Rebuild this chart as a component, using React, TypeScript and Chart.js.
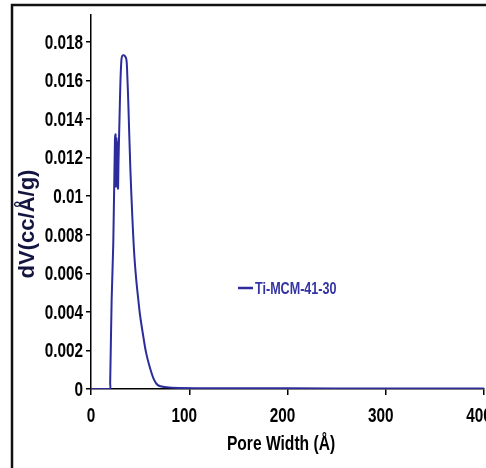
import React, { useEffect, useRef } from "react";
import { Chart, registerables } from "chart.js";

Chart.register(...registerables);

const poreWidth = [0, 19, 19.5, 21, 22.7, 24.4, 25, 25.5, 26, 26.5, 27, 27.5, 28, 29, 30, 31, 32, 34, 36, 37, 38, 40, 42, 44, 46, 48, 50, 53, 56, 60, 64, 68, 75, 90, 150, 250, 400];
const dV = [0, 0, 0.0003, 0.0046, 0.0076, 0.013, 0.0132, 0.0105, 0.013, 0.0106, 0.0128, 0.0104, 0.0118, 0.014, 0.016, 0.0171, 0.0173, 0.0173, 0.0171, 0.0162, 0.0148, 0.0115, 0.009, 0.007, 0.0057, 0.0047, 0.0038, 0.0028, 0.0019, 0.0011, 0.0005, 0.0002, 0.0001, 0.00005, 0.00004, 0.00003, 0.00002];
const seriesName = "Ti-MCM-41-30";
const xTitle = "Pore Width (Å)";
const yTitle = "dV(cc/Å/g)";
const xTicks = [0, 100, 200, 300, 400];
const yTicks = [0, 0.002, 0.004, 0.006, 0.008, 0.01, 0.012, 0.014, 0.016, 0.018];

const FONT = '"Liberation Sans", Arial, sans-serif';
const LINE = "#2c2c9c";

function squishText(ctx: CanvasRenderingContext2D, text: string, x: number, y: number, sx: number, align: CanvasTextAlign) {
  ctx.save();
  ctx.translate(x, y);
  ctx.scale(sx, 1);
  ctx.textAlign = align;
  ctx.fillText(text, 0, 0);
  ctx.restore();
}

const fmt = (v: number) => String(Number(v.toFixed(3)));

export default function App() {
  const ref = useRef<HTMLCanvasElement>(null);
  useEffect(() => {
    const canvas = ref.current!;
    const decor = {
      id: "decor",
      afterDraw(chart: any) {
        const ctx = chart.ctx as CanvasRenderingContext2D;
        const xs = chart.scales.x;
        const ys = chart.scales.y;
        ctx.save();
        // frame
        ctx.strokeStyle = "#111";
        ctx.lineWidth = 2.5;
        ctx.beginPath();
        ctx.moveTo(12, 468);
        ctx.lineTo(12, 5);
        ctx.lineTo(486, 5);
        ctx.stroke();
        ctx.textBaseline = "middle";
        // tick labels
        ctx.fillStyle = "#000";
        ctx.font = `bold 21px ${FONT}`;
        for (const v of yTicks) squishText(ctx, fmt(v), 83, ys.getPixelForValue(v) + 1, 0.73, "right");
        for (const v of xTicks) squishText(ctx, String(v), xs.getPixelForValue(v) - (v > 0 ? 5 : 0), 416, 0.73, "center");
        // y title
        ctx.fillStyle = "#141440";
        ctx.font = `bold 22px ${FONT}`;
        ctx.save();
        ctx.translate(28, 224);
        ctx.rotate(-Math.PI / 2);
        ctx.textAlign = "center";
        ctx.fillText(yTitle, 0, 0);
        ctx.restore();
        // x title
        ctx.fillStyle = "#000";
        ctx.font = `bold 20px ${FONT}`;
        squishText(ctx, xTitle, 281, 444, 0.78, "center");
        // legend
        ctx.strokeStyle = LINE;
        ctx.lineWidth = 2.5;
        ctx.beginPath();
        ctx.moveTo(238, 288);
        ctx.lineTo(253, 288);
        ctx.stroke();
        ctx.fillStyle = "#3434a4";
        ctx.font = `bold 17px ${FONT}`;
        squishText(ctx, seriesName, 255, 289, 0.74, "left");
        ctx.restore();
      },
    };
    const chart = new Chart(canvas, {
      type: "line",
      data: {
        datasets: [
          {
            label: seriesName,
            data: poreWidth.map((x, i) => ({ x, y: dV[i] })),
            borderColor: LINE,
            borderWidth: 2,
            pointRadius: 0,
            tension: 0.3,
            fill: false,
          },
        ],
      },
      options: {
        animation: false,
        responsive: false,
        layout: { padding: { top: 15, right: 2, left: 0, bottom: 0 } },
        plugins: { legend: { display: false }, tooltip: { enabled: false } },
        scales: {
          x: {
            type: "linear",
            min: 0,
            max: 400,
            afterBuildTicks: (s: any) => {
              s.ticks = xTicks.map((v) => ({ value: v }));
            },
            afterFit: (s: any) => {
              s.height = 79;
              s.paddingLeft = 0;
              s.paddingRight = 0;
            },
            ticks: { display: false },
            grid: { drawOnChartArea: false, drawTicks: true, tickLength: 6, color: "#000", lineWidth: 1.5 },
            border: { color: "#000", width: 1.5 },
          },
          y: {
            min: 0,
            max: 0.0194,
            afterBuildTicks: (s: any) => {
              s.ticks = yTicks.map((v) => ({ value: v }));
            },
            afterFit: (s: any) => {
              s.width = 91;
              s.paddingTop = 0;
              s.paddingBottom = 0;
            },
            ticks: { display: false },
            grid: { drawOnChartArea: false, drawTicks: true, tickLength: 5, color: "#000", lineWidth: 1.5 },
            border: { color: "#000", width: 1.5 },
          },
        },
      },
      plugins: [decor],
    });
    return () => chart.destroy();
  }, []);
  return (
    <div style={{ position: "fixed", left: 0, top: 0, width: 486, height: 468, background: "#fff" }}>
      <canvas ref={ref} width={486} height={468} style={{ display: "block" }} />
    </div>
  );
}
